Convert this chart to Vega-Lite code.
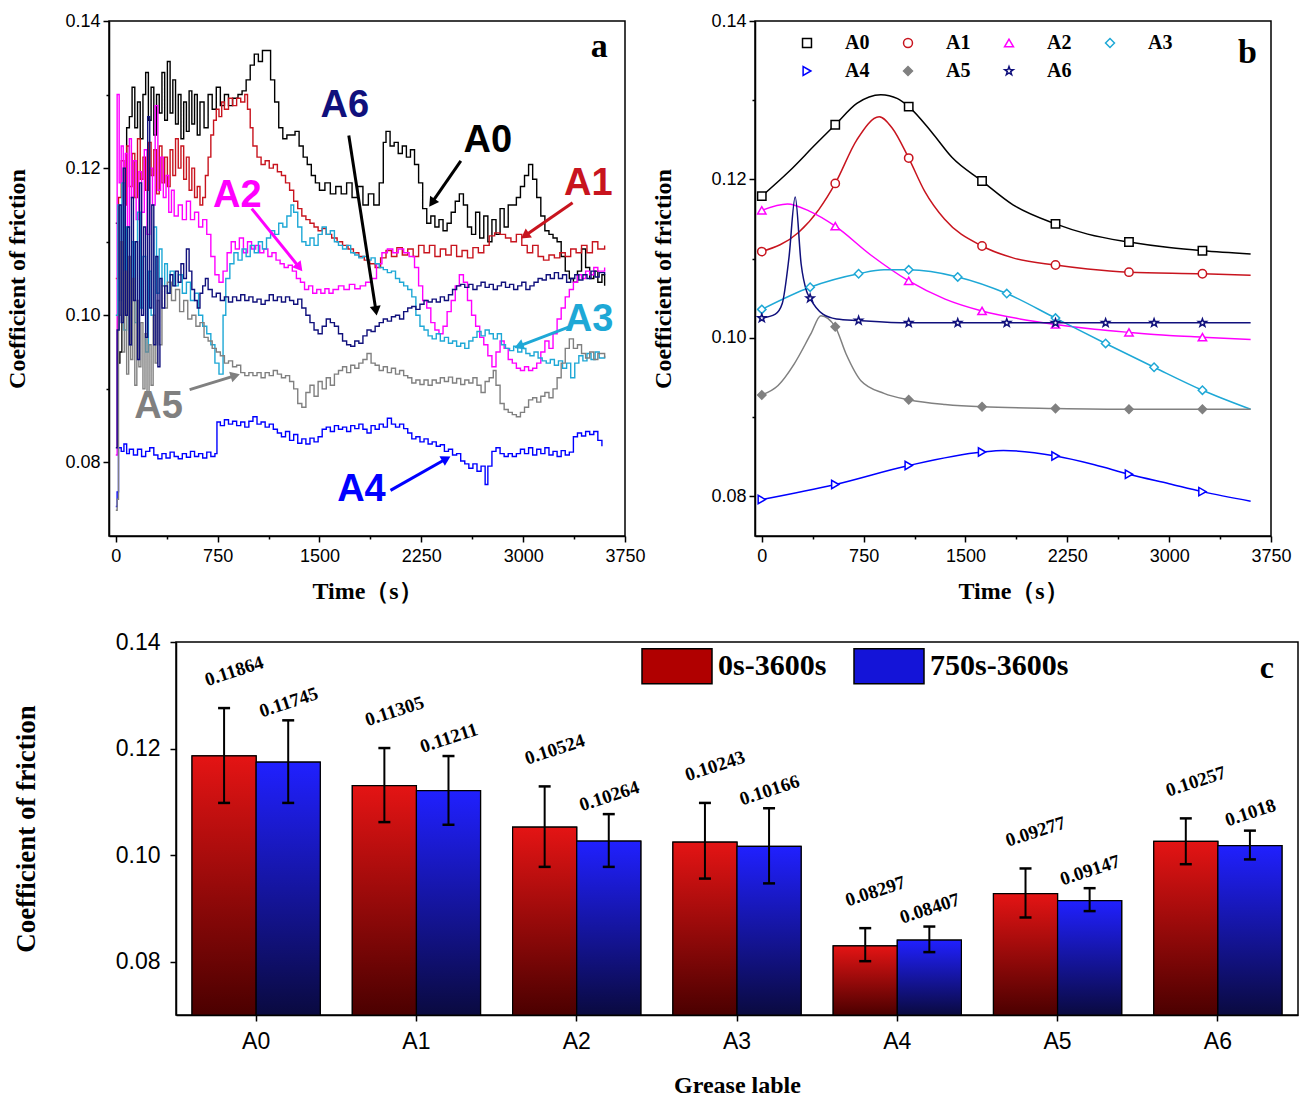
{
"$schema": "https://vega.github.io/schema/vega-lite/v6.json",
"background": "white",
"padding": {"left": 5, "top": 11, "right": 0, "bottom": 0},
"config": {
  "view": {"stroke": "#000", "strokeWidth": 1.5},
  "axis": {"domainColor": "#000", "tickColor": "#000", "labelColor": "#000", "titleColor": "#000", "grid": false, "domainWidth": 1.5, "tickWidth": 1.5, "labelFlush": false, "labelOverlap": false, "labelFont": "Liberation Sans", "titleFont": "Liberation Serif", "titleFontWeight": "bold"}
},
"datasets": {
"fric": [
{"s":"A0","t":0,"v":0.1125},{"s":"A0","t":15,"v":0.0935},{"s":"A0","t":30,"v":0.095},{"s":"A0","t":45,"v":0.1},{"s":"A0","t":60,"v":0.118},{"s":"A0","t":80,"v":0.1255},{"s":"A0","t":100,"v":0.127},{"s":"A0","t":120,"v":0.131},{"s":"A0","t":140,"v":0.1255},{"s":"A0","t":160,"v":0.129},{"s":"A0","t":180,"v":0.124},{"s":"A0","t":200,"v":0.13},{"s":"A0","t":220,"v":0.133},{"s":"A0","t":240,"v":0.1265},{"s":"A0","t":260,"v":0.131},{"s":"A0","t":280,"v":0.1245},{"s":"A0","t":300,"v":0.13},{"s":"A0","t":320,"v":0.1275},{"s":"A0","t":340,"v":0.133},{"s":"A0","t":360,"v":0.1265},{"s":"A0","t":380,"v":0.1345},{"s":"A0","t":400,"v":0.1275},{"s":"A0","t":420,"v":0.132},{"s":"A0","t":440,"v":0.126},{"s":"A0","t":460,"v":0.13},{"s":"A0","t":480,"v":0.124},{"s":"A0","t":500,"v":0.129},{"s":"A0","t":520,"v":0.125},{"s":"A0","t":540,"v":0.1305},{"s":"A0","t":560,"v":0.126},{"s":"A0","t":580,"v":0.13},{"s":"A0","t":600,"v":0.1245},{"s":"A0","t":620,"v":0.129},{"s":"A0","t":650,"v":0.1255},{"s":"A0","t":680,"v":0.13},{"s":"A0","t":710,"v":0.128},{"s":"A0","t":740,"v":0.131},{"s":"A0","t":770,"v":0.1285},{"s":"A0","t":800,"v":0.13},{"s":"A0","t":830,"v":0.1285},{"s":"A0","t":860,"v":0.1295},{"s":"A0","t":900,"v":0.13},{"s":"A0","t":930,"v":0.1305},{"s":"A0","t":960,"v":0.132},{"s":"A0","t":990,"v":0.134},{"s":"A0","t":1020,"v":0.1355},{"s":"A0","t":1050,"v":0.1345},{"s":"A0","t":1080,"v":0.136},{"s":"A0","t":1110,"v":0.136},{"s":"A0","t":1140,"v":0.132},{"s":"A0","t":1170,"v":0.129},{"s":"A0","t":1200,"v":0.1255},{"s":"A0","t":1230,"v":0.124},{"s":"A0","t":1260,"v":0.1245},{"s":"A0","t":1290,"v":0.1245},{"s":"A0","t":1320,"v":0.125},{"s":"A0","t":1350,"v":0.123},{"s":"A0","t":1380,"v":0.1215},{"s":"A0","t":1410,"v":0.1205},{"s":"A0","t":1440,"v":0.119},{"s":"A0","t":1470,"v":0.118},{"s":"A0","t":1500,"v":0.117},{"s":"A0","t":1540,"v":0.118},{"s":"A0","t":1580,"v":0.1165},{"s":"A0","t":1620,"v":0.1175},{"s":"A0","t":1660,"v":0.1165},{"s":"A0","t":1700,"v":0.118},{"s":"A0","t":1740,"v":0.116},{"s":"A0","t":1780,"v":0.1175},{"s":"A0","t":1820,"v":0.115},{"s":"A0","t":1860,"v":0.1165},{"s":"A0","t":1900,"v":0.115},{"s":"A0","t":1940,"v":0.118},{"s":"A0","t":1970,"v":0.1235},{"s":"A0","t":1990,"v":0.125},{"s":"A0","t":2020,"v":0.123},{"s":"A0","t":2050,"v":0.1235},{"s":"A0","t":2080,"v":0.122},{"s":"A0","t":2110,"v":0.123},{"s":"A0","t":2140,"v":0.1215},{"s":"A0","t":2170,"v":0.1225},{"s":"A0","t":2200,"v":0.1205},{"s":"A0","t":2230,"v":0.118},{"s":"A0","t":2260,"v":0.1145},{"s":"A0","t":2290,"v":0.1125},{"s":"A0","t":2320,"v":0.1135},{"s":"A0","t":2350,"v":0.112},{"s":"A0","t":2380,"v":0.113},{"s":"A0","t":2410,"v":0.1115},{"s":"A0","t":2440,"v":0.1125},{"s":"A0","t":2470,"v":0.114},{"s":"A0","t":2500,"v":0.1155},{"s":"A0","t":2530,"v":0.1165},{"s":"A0","t":2560,"v":0.115},{"s":"A0","t":2590,"v":0.112},{"s":"A0","t":2620,"v":0.111},{"s":"A0","t":2650,"v":0.114},{"s":"A0","t":2680,"v":0.1105},{"s":"A0","t":2710,"v":0.1135},{"s":"A0","t":2740,"v":0.11},{"s":"A0","t":2770,"v":0.113},{"s":"A0","t":2800,"v":0.111},{"s":"A0","t":2830,"v":0.1145},{"s":"A0","t":2860,"v":0.112},{"s":"A0","t":2890,"v":0.115},{"s":"A0","t":2920,"v":0.115},{"s":"A0","t":2950,"v":0.116},{"s":"A0","t":2980,"v":0.1175},{"s":"A0","t":3010,"v":0.119},{"s":"A0","t":3040,"v":0.1205},{"s":"A0","t":3070,"v":0.1185},{"s":"A0","t":3100,"v":0.116},{"s":"A0","t":3130,"v":0.1135},{"s":"A0","t":3160,"v":0.1115},{"s":"A0","t":3190,"v":0.111},{"s":"A0","t":3220,"v":0.1105},{"s":"A0","t":3250,"v":0.11},{"s":"A0","t":3280,"v":0.108},{"s":"A0","t":3310,"v":0.106},{"s":"A0","t":3340,"v":0.105},{"s":"A0","t":3370,"v":0.1045},{"s":"A0","t":3400,"v":0.106},{"s":"A0","t":3430,"v":0.109},{"s":"A0","t":3460,"v":0.1065},{"s":"A0","t":3490,"v":0.105},{"s":"A0","t":3520,"v":0.106},{"s":"A0","t":3550,"v":0.1045},{"s":"A0","t":3580,"v":0.1055},{"s":"A0","t":3600,"v":0.104},
{"s":"A1","t":0,"v":0.105},{"s":"A1","t":20,"v":0.116},{"s":"A1","t":40,"v":0.121},{"s":"A1","t":60,"v":0.115},{"s":"A1","t":80,"v":0.123},{"s":"A1","t":100,"v":0.1175},{"s":"A1","t":120,"v":0.122},{"s":"A1","t":140,"v":0.116},{"s":"A1","t":160,"v":0.124},{"s":"A1","t":180,"v":0.1185},{"s":"A1","t":200,"v":0.1215},{"s":"A1","t":220,"v":0.117},{"s":"A1","t":240,"v":0.1235},{"s":"A1","t":260,"v":0.119},{"s":"A1","t":280,"v":0.1225},{"s":"A1","t":300,"v":0.1165},{"s":"A1","t":320,"v":0.123},{"s":"A1","t":340,"v":0.118},{"s":"A1","t":360,"v":0.1215},{"s":"A1","t":380,"v":0.1175},{"s":"A1","t":400,"v":0.1225},{"s":"A1","t":420,"v":0.119},{"s":"A1","t":440,"v":0.124},{"s":"A1","t":460,"v":0.12},{"s":"A1","t":480,"v":0.123},{"s":"A1","t":500,"v":0.1185},{"s":"A1","t":520,"v":0.1215},{"s":"A1","t":540,"v":0.117},{"s":"A1","t":560,"v":0.12},{"s":"A1","t":580,"v":0.116},{"s":"A1","t":600,"v":0.1175},{"s":"A1","t":620,"v":0.115},{"s":"A1","t":640,"v":0.116},{"s":"A1","t":660,"v":0.119},{"s":"A1","t":680,"v":0.1215},{"s":"A1","t":700,"v":0.1245},{"s":"A1","t":720,"v":0.1265},{"s":"A1","t":740,"v":0.128},{"s":"A1","t":760,"v":0.127},{"s":"A1","t":780,"v":0.129},{"s":"A1","t":800,"v":0.128},{"s":"A1","t":830,"v":0.1295},{"s":"A1","t":860,"v":0.1285},{"s":"A1","t":890,"v":0.1295},{"s":"A1","t":920,"v":0.129},{"s":"A1","t":950,"v":0.13},{"s":"A1","t":970,"v":0.128},{"s":"A1","t":990,"v":0.1255},{"s":"A1","t":1010,"v":0.123},{"s":"A1","t":1040,"v":0.1215},{"s":"A1","t":1070,"v":0.1205},{"s":"A1","t":1100,"v":0.121},{"s":"A1","t":1130,"v":0.12},{"s":"A1","t":1160,"v":0.1205},{"s":"A1","t":1190,"v":0.1195},{"s":"A1","t":1220,"v":0.119},{"s":"A1","t":1250,"v":0.118},{"s":"A1","t":1280,"v":0.117},{"s":"A1","t":1310,"v":0.1155},{"s":"A1","t":1340,"v":0.1145},{"s":"A1","t":1370,"v":0.1135},{"s":"A1","t":1400,"v":0.113},{"s":"A1","t":1430,"v":0.1125},{"s":"A1","t":1460,"v":0.112},{"s":"A1","t":1490,"v":0.1115},{"s":"A1","t":1520,"v":0.1118},{"s":"A1","t":1550,"v":0.111},{"s":"A1","t":1590,"v":0.1105},{"s":"A1","t":1630,"v":0.11},{"s":"A1","t":1670,"v":0.1095},{"s":"A1","t":1710,"v":0.109},{"s":"A1","t":1750,"v":0.1085},{"s":"A1","t":1790,"v":0.108},{"s":"A1","t":1830,"v":0.1075},{"s":"A1","t":1870,"v":0.107},{"s":"A1","t":1910,"v":0.1065},{"s":"A1","t":1950,"v":0.1078},{"s":"A1","t":1990,"v":0.1088},{"s":"A1","t":2030,"v":0.108},{"s":"A1","t":2070,"v":0.1092},{"s":"A1","t":2110,"v":0.1082},{"s":"A1","t":2150,"v":0.109},{"s":"A1","t":2190,"v":0.108},{"s":"A1","t":2230,"v":0.1095},{"s":"A1","t":2270,"v":0.1085},{"s":"A1","t":2310,"v":0.1095},{"s":"A1","t":2350,"v":0.108},{"s":"A1","t":2390,"v":0.109},{"s":"A1","t":2430,"v":0.1082},{"s":"A1","t":2470,"v":0.1095},{"s":"A1","t":2510,"v":0.108},{"s":"A1","t":2550,"v":0.1088},{"s":"A1","t":2590,"v":0.1078},{"s":"A1","t":2630,"v":0.1092},{"s":"A1","t":2670,"v":0.1085},{"s":"A1","t":2710,"v":0.1095},{"s":"A1","t":2750,"v":0.1108},{"s":"A1","t":2790,"v":0.1112},{"s":"A1","t":2830,"v":0.111},{"s":"A1","t":2870,"v":0.1105},{"s":"A1","t":2910,"v":0.11},{"s":"A1","t":2950,"v":0.111},{"s":"A1","t":2990,"v":0.1095},{"s":"A1","t":3030,"v":0.1085},{"s":"A1","t":3070,"v":0.1095},{"s":"A1","t":3110,"v":0.108},{"s":"A1","t":3150,"v":0.1075},{"s":"A1","t":3190,"v":0.1082},{"s":"A1","t":3230,"v":0.1078},{"s":"A1","t":3270,"v":0.1085},{"s":"A1","t":3310,"v":0.108},{"s":"A1","t":3350,"v":0.109},{"s":"A1","t":3390,"v":0.1085},{"s":"A1","t":3430,"v":0.1095},{"s":"A1","t":3470,"v":0.1085},{"s":"A1","t":3510,"v":0.11},{"s":"A1","t":3550,"v":0.109},{"s":"A1","t":3600,"v":0.1095},
{"s":"A2","t":0,"v":0.081},{"s":"A2","t":10,"v":0.13},{"s":"A2","t":25,"v":0.118},{"s":"A2","t":40,"v":0.123},{"s":"A2","t":55,"v":0.115},{"s":"A2","t":70,"v":0.122},{"s":"A2","t":85,"v":0.112},{"s":"A2","t":100,"v":0.124},{"s":"A2","t":115,"v":0.116},{"s":"A2","t":130,"v":0.121},{"s":"A2","t":150,"v":0.113},{"s":"A2","t":170,"v":0.1195},{"s":"A2","t":190,"v":0.114},{"s":"A2","t":210,"v":0.1225},{"s":"A2","t":230,"v":0.111},{"s":"A2","t":250,"v":0.12},{"s":"A2","t":270,"v":0.115},{"s":"A2","t":290,"v":0.1285},{"s":"A2","t":310,"v":0.117},{"s":"A2","t":330,"v":0.1215},{"s":"A2","t":350,"v":0.116},{"s":"A2","t":370,"v":0.119},{"s":"A2","t":390,"v":0.114},{"s":"A2","t":410,"v":0.117},{"s":"A2","t":430,"v":0.1135},{"s":"A2","t":460,"v":0.115},{"s":"A2","t":490,"v":0.113},{"s":"A2","t":520,"v":0.1155},{"s":"A2","t":550,"v":0.113},{"s":"A2","t":580,"v":0.114},{"s":"A2","t":610,"v":0.112},{"s":"A2","t":640,"v":0.113},{"s":"A2","t":670,"v":0.111},{"s":"A2","t":700,"v":0.108},{"s":"A2","t":730,"v":0.1055},{"s":"A2","t":760,"v":0.1045},{"s":"A2","t":790,"v":0.106},{"s":"A2","t":820,"v":0.1085},{"s":"A2","t":850,"v":0.11},{"s":"A2","t":880,"v":0.109},{"s":"A2","t":910,"v":0.1105},{"s":"A2","t":940,"v":0.1085},{"s":"A2","t":970,"v":0.11},{"s":"A2","t":1000,"v":0.109},{"s":"A2","t":1030,"v":0.1095},{"s":"A2","t":1060,"v":0.1085},{"s":"A2","t":1090,"v":0.109},{"s":"A2","t":1120,"v":0.108},{"s":"A2","t":1150,"v":0.1085},{"s":"A2","t":1180,"v":0.1075},{"s":"A2","t":1210,"v":0.107},{"s":"A2","t":1240,"v":0.1065},{"s":"A2","t":1270,"v":0.1068},{"s":"A2","t":1300,"v":0.106},{"s":"A2","t":1330,"v":0.105},{"s":"A2","t":1360,"v":0.1045},{"s":"A2","t":1390,"v":0.1035},{"s":"A2","t":1420,"v":0.104},{"s":"A2","t":1450,"v":0.103},{"s":"A2","t":1480,"v":0.1035},{"s":"A2","t":1510,"v":0.103},{"s":"A2","t":1540,"v":0.1036},{"s":"A2","t":1570,"v":0.103},{"s":"A2","t":1600,"v":0.1035},{"s":"A2","t":1640,"v":0.104},{"s":"A2","t":1680,"v":0.1035},{"s":"A2","t":1720,"v":0.1042},{"s":"A2","t":1760,"v":0.1036},{"s":"A2","t":1800,"v":0.104},{"s":"A2","t":1840,"v":0.1045},{"s":"A2","t":1880,"v":0.105},{"s":"A2","t":1920,"v":0.107},{"s":"A2","t":1960,"v":0.1085},{"s":"A2","t":2000,"v":0.109},{"s":"A2","t":2040,"v":0.1085},{"s":"A2","t":2080,"v":0.109},{"s":"A2","t":2120,"v":0.1085},{"s":"A2","t":2160,"v":0.108},{"s":"A2","t":2200,"v":0.1065},{"s":"A2","t":2230,"v":0.104},{"s":"A2","t":2260,"v":0.102},{"s":"A2","t":2290,"v":0.101},{"s":"A2","t":2320,"v":0.099},{"s":"A2","t":2350,"v":0.098},{"s":"A2","t":2380,"v":0.0975},{"s":"A2","t":2410,"v":0.0985},{"s":"A2","t":2440,"v":0.1005},{"s":"A2","t":2470,"v":0.102},{"s":"A2","t":2500,"v":0.104},{"s":"A2","t":2530,"v":0.1055},{"s":"A2","t":2560,"v":0.1045},{"s":"A2","t":2590,"v":0.102},{"s":"A2","t":2620,"v":0.1},{"s":"A2","t":2650,"v":0.0985},{"s":"A2","t":2680,"v":0.097},{"s":"A2","t":2710,"v":0.096},{"s":"A2","t":2740,"v":0.0945},{"s":"A2","t":2770,"v":0.093},{"s":"A2","t":2800,"v":0.095},{"s":"A2","t":2830,"v":0.0965},{"s":"A2","t":2860,"v":0.0955},{"s":"A2","t":2890,"v":0.094},{"s":"A2","t":2920,"v":0.0935},{"s":"A2","t":2950,"v":0.0928},{"s":"A2","t":2980,"v":0.0925},{"s":"A2","t":3010,"v":0.093},{"s":"A2","t":3040,"v":0.0925},{"s":"A2","t":3070,"v":0.0928},{"s":"A2","t":3100,"v":0.0935},{"s":"A2","t":3130,"v":0.095},{"s":"A2","t":3160,"v":0.0965},{"s":"A2","t":3190,"v":0.0955},{"s":"A2","t":3220,"v":0.0975},{"s":"A2","t":3250,"v":0.0995},{"s":"A2","t":3280,"v":0.101},{"s":"A2","t":3310,"v":0.1025},{"s":"A2","t":3340,"v":0.1035},{"s":"A2","t":3370,"v":0.1045},{"s":"A2","t":3400,"v":0.1055},{"s":"A2","t":3430,"v":0.105},{"s":"A2","t":3460,"v":0.106},{"s":"A2","t":3490,"v":0.1055},{"s":"A2","t":3520,"v":0.1065},{"s":"A2","t":3550,"v":0.106},{"s":"A2","t":3600,"v":0.1065},
{"s":"A3","t":0,"v":0.1},{"s":"A3","t":15,"v":0.115},{"s":"A3","t":30,"v":0.102},{"s":"A3","t":45,"v":0.118},{"s":"A3","t":60,"v":0.098},{"s":"A3","t":80,"v":0.112},{"s":"A3","t":100,"v":0.096},{"s":"A3","t":120,"v":0.11},{"s":"A3","t":140,"v":0.099},{"s":"A3","t":160,"v":0.114},{"s":"A3","t":180,"v":0.101},{"s":"A3","t":200,"v":0.108},{"s":"A3","t":220,"v":0.095},{"s":"A3","t":240,"v":0.106},{"s":"A3","t":260,"v":0.1},{"s":"A3","t":280,"v":0.112},{"s":"A3","t":300,"v":0.103},{"s":"A3","t":320,"v":0.109},{"s":"A3","t":340,"v":0.104},{"s":"A3","t":360,"v":0.107},{"s":"A3","t":380,"v":0.103},{"s":"A3","t":400,"v":0.106},{"s":"A3","t":430,"v":0.104},{"s":"A3","t":460,"v":0.1055},{"s":"A3","t":490,"v":0.103},{"s":"A3","t":520,"v":0.1045},{"s":"A3","t":550,"v":0.102},{"s":"A3","t":580,"v":0.103},{"s":"A3","t":610,"v":0.1},{"s":"A3","t":640,"v":0.0985},{"s":"A3","t":670,"v":0.0975},{"s":"A3","t":700,"v":0.096},{"s":"A3","t":730,"v":0.0935},{"s":"A3","t":760,"v":0.092},{"s":"A3","t":790,"v":0.1},{"s":"A3","t":810,"v":0.105},{"s":"A3","t":840,"v":0.107},{"s":"A3","t":870,"v":0.1085},{"s":"A3","t":900,"v":0.1075},{"s":"A3","t":930,"v":0.109},{"s":"A3","t":960,"v":0.108},{"s":"A3","t":990,"v":0.1095},{"s":"A3","t":1020,"v":0.1085},{"s":"A3","t":1050,"v":0.11},{"s":"A3","t":1080,"v":0.109},{"s":"A3","t":1110,"v":0.1105},{"s":"A3","t":1140,"v":0.1115},{"s":"A3","t":1170,"v":0.111},{"s":"A3","t":1200,"v":0.1125},{"s":"A3","t":1230,"v":0.112},{"s":"A3","t":1260,"v":0.1135},{"s":"A3","t":1290,"v":0.115},{"s":"A3","t":1310,"v":0.114},{"s":"A3","t":1340,"v":0.112},{"s":"A3","t":1370,"v":0.11},{"s":"A3","t":1400,"v":0.1095},{"s":"A3","t":1430,"v":0.1105},{"s":"A3","t":1460,"v":0.1095},{"s":"A3","t":1490,"v":0.111},{"s":"A3","t":1520,"v":0.112},{"s":"A3","t":1550,"v":0.111},{"s":"A3","t":1580,"v":0.1115},{"s":"A3","t":1610,"v":0.11},{"s":"A3","t":1640,"v":0.1095},{"s":"A3","t":1670,"v":0.109},{"s":"A3","t":1700,"v":0.1095},{"s":"A3","t":1730,"v":0.1085},{"s":"A3","t":1760,"v":0.1082},{"s":"A3","t":1790,"v":0.1078},{"s":"A3","t":1820,"v":0.108},{"s":"A3","t":1850,"v":0.1075},{"s":"A3","t":1880,"v":0.1078},{"s":"A3","t":1910,"v":0.107},{"s":"A3","t":1940,"v":0.1065},{"s":"A3","t":1970,"v":0.1062},{"s":"A3","t":2000,"v":0.1058},{"s":"A3","t":2030,"v":0.106},{"s":"A3","t":2060,"v":0.105},{"s":"A3","t":2090,"v":0.1045},{"s":"A3","t":2120,"v":0.104},{"s":"A3","t":2150,"v":0.1035},{"s":"A3","t":2180,"v":0.1025},{"s":"A3","t":2210,"v":0.1},{"s":"A3","t":2240,"v":0.0985},{"s":"A3","t":2270,"v":0.098},{"s":"A3","t":2300,"v":0.0972},{"s":"A3","t":2330,"v":0.0968},{"s":"A3","t":2360,"v":0.0975},{"s":"A3","t":2390,"v":0.0965},{"s":"A3","t":2420,"v":0.097},{"s":"A3","t":2450,"v":0.0962},{"s":"A3","t":2480,"v":0.0965},{"s":"A3","t":2510,"v":0.0958},{"s":"A3","t":2540,"v":0.0962},{"s":"A3","t":2570,"v":0.0955},{"s":"A3","t":2600,"v":0.0965},{"s":"A3","t":2630,"v":0.097},{"s":"A3","t":2660,"v":0.0978},{"s":"A3","t":2690,"v":0.0972},{"s":"A3","t":2720,"v":0.098},{"s":"A3","t":2750,"v":0.0975},{"s":"A3","t":2780,"v":0.0968},{"s":"A3","t":2810,"v":0.0975},{"s":"A3","t":2840,"v":0.096},{"s":"A3","t":2870,"v":0.0955},{"s":"A3","t":2900,"v":0.0952},{"s":"A3","t":2930,"v":0.0958},{"s":"A3","t":2960,"v":0.095},{"s":"A3","t":2990,"v":0.0955},{"s":"A3","t":3020,"v":0.0948},{"s":"A3","t":3050,"v":0.0945},{"s":"A3","t":3080,"v":0.095},{"s":"A3","t":3110,"v":0.0942},{"s":"A3","t":3140,"v":0.0938},{"s":"A3","t":3170,"v":0.0935},{"s":"A3","t":3200,"v":0.094},{"s":"A3","t":3230,"v":0.0932},{"s":"A3","t":3260,"v":0.0938},{"s":"A3","t":3290,"v":0.0928},{"s":"A3","t":3320,"v":0.0935},{"s":"A3","t":3350,"v":0.0915},{"s":"A3","t":3380,"v":0.0935},{"s":"A3","t":3410,"v":0.0945},{"s":"A3","t":3440,"v":0.0938},{"s":"A3","t":3470,"v":0.0948},{"s":"A3","t":3500,"v":0.094},{"s":"A3","t":3530,"v":0.095},{"s":"A3","t":3560,"v":0.0942},{"s":"A3","t":3600,"v":0.0945},
{"s":"A4","t":0,"v":0.074},{"s":"A4","t":10,"v":0.076},{"s":"A4","t":20,"v":0.082},{"s":"A4","t":40,"v":0.0815},{"s":"A4","t":60,"v":0.0825},{"s":"A4","t":80,"v":0.0812},{"s":"A4","t":100,"v":0.0818},{"s":"A4","t":130,"v":0.081},{"s":"A4","t":160,"v":0.0818},{"s":"A4","t":190,"v":0.0808},{"s":"A4","t":220,"v":0.0815},{"s":"A4","t":250,"v":0.082},{"s":"A4","t":280,"v":0.081},{"s":"A4","t":310,"v":0.0805},{"s":"A4","t":340,"v":0.0812},{"s":"A4","t":370,"v":0.0806},{"s":"A4","t":400,"v":0.0814},{"s":"A4","t":430,"v":0.0808},{"s":"A4","t":460,"v":0.0805},{"s":"A4","t":490,"v":0.0812},{"s":"A4","t":520,"v":0.0807},{"s":"A4","t":550,"v":0.0815},{"s":"A4","t":580,"v":0.0808},{"s":"A4","t":610,"v":0.0812},{"s":"A4","t":640,"v":0.0806},{"s":"A4","t":670,"v":0.0814},{"s":"A4","t":700,"v":0.0808},{"s":"A4","t":730,"v":0.0812},{"s":"A4","t":745,"v":0.0855},{"s":"A4","t":770,"v":0.085},{"s":"A4","t":800,"v":0.0858},{"s":"A4","t":830,"v":0.0852},{"s":"A4","t":860,"v":0.0856},{"s":"A4","t":890,"v":0.085},{"s":"A4","t":920,"v":0.0855},{"s":"A4","t":950,"v":0.0848},{"s":"A4","t":980,"v":0.0856},{"s":"A4","t":1010,"v":0.0862},{"s":"A4","t":1040,"v":0.0852},{"s":"A4","t":1070,"v":0.0855},{"s":"A4","t":1100,"v":0.0848},{"s":"A4","t":1130,"v":0.0852},{"s":"A4","t":1160,"v":0.0845},{"s":"A4","t":1190,"v":0.084},{"s":"A4","t":1220,"v":0.0835},{"s":"A4","t":1250,"v":0.0842},{"s":"A4","t":1280,"v":0.083},{"s":"A4","t":1310,"v":0.0838},{"s":"A4","t":1340,"v":0.0826},{"s":"A4","t":1370,"v":0.0832},{"s":"A4","t":1400,"v":0.0825},{"s":"A4","t":1430,"v":0.0833},{"s":"A4","t":1460,"v":0.0828},{"s":"A4","t":1490,"v":0.0835},{"s":"A4","t":1520,"v":0.0845},{"s":"A4","t":1550,"v":0.0848},{"s":"A4","t":1580,"v":0.0842},{"s":"A4","t":1610,"v":0.085},{"s":"A4","t":1640,"v":0.0845},{"s":"A4","t":1670,"v":0.0848},{"s":"A4","t":1700,"v":0.0842},{"s":"A4","t":1730,"v":0.085},{"s":"A4","t":1760,"v":0.0846},{"s":"A4","t":1790,"v":0.0852},{"s":"A4","t":1820,"v":0.0845},{"s":"A4","t":1850,"v":0.084},{"s":"A4","t":1880,"v":0.085},{"s":"A4","t":1910,"v":0.0845},{"s":"A4","t":1940,"v":0.0852},{"s":"A4","t":1970,"v":0.0848},{"s":"A4","t":2000,"v":0.086},{"s":"A4","t":2030,"v":0.0852},{"s":"A4","t":2060,"v":0.0848},{"s":"A4","t":2090,"v":0.0852},{"s":"A4","t":2120,"v":0.0846},{"s":"A4","t":2150,"v":0.084},{"s":"A4","t":2180,"v":0.0832},{"s":"A4","t":2210,"v":0.0835},{"s":"A4","t":2240,"v":0.0828},{"s":"A4","t":2270,"v":0.0832},{"s":"A4","t":2300,"v":0.0825},{"s":"A4","t":2330,"v":0.0828},{"s":"A4","t":2360,"v":0.0822},{"s":"A4","t":2390,"v":0.0824},{"s":"A4","t":2420,"v":0.0815},{"s":"A4","t":2450,"v":0.0818},{"s":"A4","t":2480,"v":0.081},{"s":"A4","t":2510,"v":0.0812},{"s":"A4","t":2540,"v":0.0802},{"s":"A4","t":2570,"v":0.0798},{"s":"A4","t":2600,"v":0.0792},{"s":"A4","t":2630,"v":0.0798},{"s":"A4","t":2660,"v":0.0788},{"s":"A4","t":2690,"v":0.0795},{"s":"A4","t":2720,"v":0.077},{"s":"A4","t":2740,"v":0.0795},{"s":"A4","t":2770,"v":0.0815},{"s":"A4","t":2800,"v":0.082},{"s":"A4","t":2830,"v":0.0812},{"s":"A4","t":2860,"v":0.0808},{"s":"A4","t":2890,"v":0.0812},{"s":"A4","t":2920,"v":0.0808},{"s":"A4","t":2950,"v":0.0812},{"s":"A4","t":2980,"v":0.0818},{"s":"A4","t":3010,"v":0.0812},{"s":"A4","t":3040,"v":0.082},{"s":"A4","t":3070,"v":0.081},{"s":"A4","t":3100,"v":0.0818},{"s":"A4","t":3130,"v":0.0812},{"s":"A4","t":3160,"v":0.082},{"s":"A4","t":3190,"v":0.081},{"s":"A4","t":3220,"v":0.0815},{"s":"A4","t":3250,"v":0.0808},{"s":"A4","t":3280,"v":0.0816},{"s":"A4","t":3310,"v":0.081},{"s":"A4","t":3340,"v":0.0814},{"s":"A4","t":3370,"v":0.0835},{"s":"A4","t":3400,"v":0.084},{"s":"A4","t":3430,"v":0.0836},{"s":"A4","t":3460,"v":0.0842},{"s":"A4","t":3490,"v":0.0838},{"s":"A4","t":3520,"v":0.0842},{"s":"A4","t":3550,"v":0.083},{"s":"A4","t":3580,"v":0.0822},
{"s":"A5","t":0,"v":0.0735},{"s":"A5","t":10,"v":0.075},{"s":"A5","t":20,"v":0.1},{"s":"A5","t":35,"v":0.11},{"s":"A5","t":50,"v":0.095},{"s":"A5","t":65,"v":0.106},{"s":"A5","t":80,"v":0.092},{"s":"A5","t":95,"v":0.108},{"s":"A5","t":110,"v":0.094},{"s":"A5","t":125,"v":0.105},{"s":"A5","t":140,"v":0.0905},{"s":"A5","t":155,"v":0.102},{"s":"A5","t":170,"v":0.093},{"s":"A5","t":185,"v":0.099},{"s":"A5","t":200,"v":0.09},{"s":"A5","t":215,"v":0.0975},{"s":"A5","t":230,"v":0.089},{"s":"A5","t":245,"v":0.096},{"s":"A5","t":260,"v":0.0905},{"s":"A5","t":275,"v":0.1},{"s":"A5","t":290,"v":0.0935},{"s":"A5","t":305,"v":0.102},{"s":"A5","t":320,"v":0.096},{"s":"A5","t":340,"v":0.104},{"s":"A5","t":360,"v":0.101},{"s":"A5","t":380,"v":0.1045},{"s":"A5","t":410,"v":0.102},{"s":"A5","t":440,"v":0.1035},{"s":"A5","t":470,"v":0.1005},{"s":"A5","t":500,"v":0.102},{"s":"A5","t":530,"v":0.0995},{"s":"A5","t":560,"v":0.1},{"s":"A5","t":590,"v":0.0985},{"s":"A5","t":620,"v":0.099},{"s":"A5","t":650,"v":0.097},{"s":"A5","t":680,"v":0.0965},{"s":"A5","t":710,"v":0.0955},{"s":"A5","t":740,"v":0.095},{"s":"A5","t":770,"v":0.0945},{"s":"A5","t":800,"v":0.0935},{"s":"A5","t":830,"v":0.0938},{"s":"A5","t":860,"v":0.093},{"s":"A5","t":890,"v":0.0932},{"s":"A5","t":920,"v":0.0922},{"s":"A5","t":950,"v":0.0918},{"s":"A5","t":980,"v":0.0922},{"s":"A5","t":1010,"v":0.0918},{"s":"A5","t":1040,"v":0.0922},{"s":"A5","t":1070,"v":0.0915},{"s":"A5","t":1100,"v":0.0922},{"s":"A5","t":1130,"v":0.0918},{"s":"A5","t":1160,"v":0.0925},{"s":"A5","t":1190,"v":0.092},{"s":"A5","t":1220,"v":0.0915},{"s":"A5","t":1250,"v":0.0918},{"s":"A5","t":1280,"v":0.091},{"s":"A5","t":1310,"v":0.09},{"s":"A5","t":1340,"v":0.088},{"s":"A5","t":1370,"v":0.0875},{"s":"A5","t":1400,"v":0.0895},{"s":"A5","t":1430,"v":0.0905},{"s":"A5","t":1460,"v":0.089},{"s":"A5","t":1490,"v":0.091},{"s":"A5","t":1520,"v":0.09},{"s":"A5","t":1550,"v":0.0915},{"s":"A5","t":1580,"v":0.0905},{"s":"A5","t":1610,"v":0.092},{"s":"A5","t":1640,"v":0.0925},{"s":"A5","t":1670,"v":0.093},{"s":"A5","t":1700,"v":0.0922},{"s":"A5","t":1730,"v":0.0932},{"s":"A5","t":1760,"v":0.0928},{"s":"A5","t":1790,"v":0.0935},{"s":"A5","t":1820,"v":0.094},{"s":"A5","t":1850,"v":0.0948},{"s":"A5","t":1880,"v":0.0935},{"s":"A5","t":1910,"v":0.0932},{"s":"A5","t":1940,"v":0.0925},{"s":"A5","t":1970,"v":0.093},{"s":"A5","t":2000,"v":0.0922},{"s":"A5","t":2030,"v":0.0928},{"s":"A5","t":2060,"v":0.092},{"s":"A5","t":2090,"v":0.0925},{"s":"A5","t":2120,"v":0.0918},{"s":"A5","t":2150,"v":0.0915},{"s":"A5","t":2180,"v":0.0908},{"s":"A5","t":2210,"v":0.0912},{"s":"A5","t":2240,"v":0.0906},{"s":"A5","t":2270,"v":0.0912},{"s":"A5","t":2300,"v":0.0905},{"s":"A5","t":2330,"v":0.0912},{"s":"A5","t":2360,"v":0.0908},{"s":"A5","t":2390,"v":0.0915},{"s":"A5","t":2420,"v":0.091},{"s":"A5","t":2450,"v":0.0916},{"s":"A5","t":2480,"v":0.0908},{"s":"A5","t":2510,"v":0.0914},{"s":"A5","t":2540,"v":0.0906},{"s":"A5","t":2570,"v":0.0912},{"s":"A5","t":2600,"v":0.0908},{"s":"A5","t":2630,"v":0.0915},{"s":"A5","t":2660,"v":0.0905},{"s":"A5","t":2690,"v":0.0895},{"s":"A5","t":2720,"v":0.091},{"s":"A5","t":2750,"v":0.0915},{"s":"A5","t":2780,"v":0.0925},{"s":"A5","t":2800,"v":0.0905},{"s":"A5","t":2830,"v":0.088},{"s":"A5","t":2860,"v":0.0872},{"s":"A5","t":2890,"v":0.0868},{"s":"A5","t":2920,"v":0.0865},{"s":"A5","t":2950,"v":0.0862},{"s":"A5","t":2980,"v":0.0868},{"s":"A5","t":3010,"v":0.0875},{"s":"A5","t":3040,"v":0.0885},{"s":"A5","t":3070,"v":0.0888},{"s":"A5","t":3100,"v":0.0882},{"s":"A5","t":3130,"v":0.089},{"s":"A5","t":3160,"v":0.0895},{"s":"A5","t":3190,"v":0.0888},{"s":"A5","t":3220,"v":0.09},{"s":"A5","t":3250,"v":0.0915},{"s":"A5","t":3280,"v":0.0935},{"s":"A5","t":3310,"v":0.0955},{"s":"A5","t":3340,"v":0.0968},{"s":"A5","t":3370,"v":0.0955},{"s":"A5","t":3400,"v":0.096},{"s":"A5","t":3430,"v":0.0948},{"s":"A5","t":3460,"v":0.0942},{"s":"A5","t":3490,"v":0.095},{"s":"A5","t":3520,"v":0.094},{"s":"A5","t":3550,"v":0.0948},{"s":"A5","t":3600,"v":0.0942},
{"s":"A6","t":0,"v":0.082},{"s":"A6","t":10,"v":0.098},{"s":"A6","t":25,"v":0.115},{"s":"A6","t":40,"v":0.099},{"s":"A6","t":55,"v":0.12},{"s":"A6","t":70,"v":0.1},{"s":"A6","t":85,"v":0.112},{"s":"A6","t":100,"v":0.096},{"s":"A6","t":115,"v":0.116},{"s":"A6","t":130,"v":0.102},{"s":"A6","t":145,"v":0.11},{"s":"A6","t":160,"v":0.094},{"s":"A6","t":175,"v":0.118},{"s":"A6","t":190,"v":0.1},{"s":"A6","t":205,"v":0.112},{"s":"A6","t":220,"v":0.097},{"s":"A6","t":235,"v":0.127},{"s":"A6","t":250,"v":0.101},{"s":"A6","t":265,"v":0.115},{"s":"A6","t":280,"v":0.096},{"s":"A6","t":295,"v":0.108},{"s":"A6","t":310,"v":0.093},{"s":"A6","t":325,"v":0.105},{"s":"A6","t":340,"v":0.101},{"s":"A6","t":360,"v":0.104},{"s":"A6","t":380,"v":0.103},{"s":"A6","t":400,"v":0.1055},{"s":"A6","t":420,"v":0.104},{"s":"A6","t":440,"v":0.106},{"s":"A6","t":460,"v":0.1045},{"s":"A6","t":480,"v":0.107},{"s":"A6","t":500,"v":0.105},{"s":"A6","t":520,"v":0.109},{"s":"A6","t":540,"v":0.106},{"s":"A6","t":560,"v":0.1035},{"s":"A6","t":580,"v":0.102},{"s":"A6","t":600,"v":0.101},{"s":"A6","t":620,"v":0.103},{"s":"A6","t":640,"v":0.104},{"s":"A6","t":660,"v":0.105},{"s":"A6","t":680,"v":0.1035},{"s":"A6","t":710,"v":0.1025},{"s":"A6","t":740,"v":0.103},{"s":"A6","t":770,"v":0.102},{"s":"A6","t":800,"v":0.1025},{"s":"A6","t":830,"v":0.1018},{"s":"A6","t":860,"v":0.1025},{"s":"A6","t":890,"v":0.102},{"s":"A6","t":920,"v":0.1028},{"s":"A6","t":950,"v":0.102},{"s":"A6","t":980,"v":0.1025},{"s":"A6","t":1010,"v":0.1018},{"s":"A6","t":1040,"v":0.1022},{"s":"A6","t":1070,"v":0.1015},{"s":"A6","t":1100,"v":0.102},{"s":"A6","t":1130,"v":0.1028},{"s":"A6","t":1160,"v":0.102},{"s":"A6","t":1190,"v":0.1025},{"s":"A6","t":1220,"v":0.1018},{"s":"A6","t":1250,"v":0.1025},{"s":"A6","t":1280,"v":0.102},{"s":"A6","t":1310,"v":0.1015},{"s":"A6","t":1340,"v":0.1022},{"s":"A6","t":1370,"v":0.101},{"s":"A6","t":1400,"v":0.1},{"s":"A6","t":1430,"v":0.099},{"s":"A6","t":1460,"v":0.098},{"s":"A6","t":1490,"v":0.0975},{"s":"A6","t":1520,"v":0.0985},{"s":"A6","t":1550,"v":0.0995},{"s":"A6","t":1580,"v":0.099},{"s":"A6","t":1610,"v":0.0985},{"s":"A6","t":1640,"v":0.0975},{"s":"A6","t":1670,"v":0.0965},{"s":"A6","t":1700,"v":0.096},{"s":"A6","t":1730,"v":0.0958},{"s":"A6","t":1760,"v":0.0965},{"s":"A6","t":1790,"v":0.0962},{"s":"A6","t":1820,"v":0.0972},{"s":"A6","t":1850,"v":0.098},{"s":"A6","t":1880,"v":0.0978},{"s":"A6","t":1910,"v":0.0985},{"s":"A6","t":1940,"v":0.099},{"s":"A6","t":1970,"v":0.0995},{"s":"A6","t":2000,"v":0.0992},{"s":"A6","t":2030,"v":0.0998},{"s":"A6","t":2060,"v":0.1},{"s":"A6","t":2090,"v":0.0995},{"s":"A6","t":2120,"v":0.1005},{"s":"A6","t":2150,"v":0.101},{"s":"A6","t":2180,"v":0.1012},{"s":"A6","t":2210,"v":0.1008},{"s":"A6","t":2240,"v":0.1015},{"s":"A6","t":2270,"v":0.102},{"s":"A6","t":2300,"v":0.1018},{"s":"A6","t":2330,"v":0.1022},{"s":"A6","t":2360,"v":0.1018},{"s":"A6","t":2390,"v":0.1025},{"s":"A6","t":2420,"v":0.102},{"s":"A6","t":2450,"v":0.1028},{"s":"A6","t":2480,"v":0.1035},{"s":"A6","t":2510,"v":0.104},{"s":"A6","t":2540,"v":0.1042},{"s":"A6","t":2570,"v":0.1038},{"s":"A6","t":2600,"v":0.1042},{"s":"A6","t":2630,"v":0.1035},{"s":"A6","t":2660,"v":0.104},{"s":"A6","t":2690,"v":0.1045},{"s":"A6","t":2720,"v":0.1038},{"s":"A6","t":2750,"v":0.1042},{"s":"A6","t":2780,"v":0.1035},{"s":"A6","t":2810,"v":0.104},{"s":"A6","t":2840,"v":0.1045},{"s":"A6","t":2870,"v":0.1038},{"s":"A6","t":2900,"v":0.1042},{"s":"A6","t":2930,"v":0.1035},{"s":"A6","t":2960,"v":0.104},{"s":"A6","t":2990,"v":0.1045},{"s":"A6","t":3020,"v":0.1035},{"s":"A6","t":3050,"v":0.104},{"s":"A6","t":3080,"v":0.1045},{"s":"A6","t":3110,"v":0.105},{"s":"A6","t":3140,"v":0.1048},{"s":"A6","t":3170,"v":0.1055},{"s":"A6","t":3200,"v":0.105},{"s":"A6","t":3230,"v":0.1058},{"s":"A6","t":3260,"v":0.105},{"s":"A6","t":3290,"v":0.1055},{"s":"A6","t":3320,"v":0.1045},{"s":"A6","t":3350,"v":0.105},{"s":"A6","t":3380,"v":0.1055},{"s":"A6","t":3410,"v":0.1048},{"s":"A6","t":3440,"v":0.1055},{"s":"A6","t":3470,"v":0.105},{"s":"A6","t":3500,"v":0.106},{"s":"A6","t":3530,"v":0.1052},{"s":"A6","t":3560,"v":0.1058},{"s":"A6","t":3600,"v":0.1055}
],
"alabels": [
{"s":"A6","t":1687,"v":0.1285},{"s":"A0","t":2739,"v":0.1237},{"s":"A1","t":3480,"v":0.1178},{"s":"A2","t":895,"v":0.1162},{"s":"A3","t":3486,"v":0.0993},{"s":"A5","t":315,"v":0.0875},{"s":"A4","t":1809,"v":0.0762}
],
"arrows": [
{"s":"A6","t":1716,"v":0.12445,"t2":1916,"v2":0.1006},{"s":"A0","t":2541,"v":0.121,"t2":2328,"v2":0.1153},{"s":"A1","t":3364,"v":0.1153,"t2":3013,"v2":0.1108},{"s":"A2","t":1001,"v":0.1145,"t2":1352,"v2":0.1065},{"s":"A3","t":3349,"v":0.0985,"t2":2968,"v2":0.0958},{"s":"A5","t":544,"v":0.0899,"t2":880,"v2":0.0918},{"s":"A4","t":2023,"v":0.0762,"t2":2434,"v2":0.0805}
],
"curves": [
{"s":"A0","t":0,"v":0.1179},{"s":"A0","t":200,"v":0.121},{"s":"A0","t":400,"v":0.1245},{"s":"A0","t":541,"v":0.1269},{"s":"A0","t":700,"v":0.1296},{"s":"A0","t":877,"v":0.1307},{"s":"A0","t":1000,"v":0.1302},{"s":"A0","t":1082,"v":0.1292},{"s":"A0","t":1250,"v":0.126},{"s":"A0","t":1400,"v":0.1228},{"s":"A0","t":1622,"v":0.1198},{"s":"A0","t":1850,"v":0.1168},{"s":"A0","t":2163,"v":0.1144},{"s":"A0","t":2400,"v":0.1131},{"s":"A0","t":2704,"v":0.1121},{"s":"A0","t":3000,"v":0.1114},{"s":"A0","t":3245,"v":0.111},{"s":"A0","t":3600,"v":0.1106},
{"s":"A1","t":0,"v":0.1109},{"s":"A1","t":270,"v":0.1133},{"s":"A1","t":420,"v":0.1162},{"s":"A1","t":541,"v":0.1195},{"s":"A1","t":700,"v":0.125},{"s":"A1","t":865,"v":0.1279},{"s":"A1","t":960,"v":0.1265},{"s":"A1","t":1082,"v":0.1227},{"s":"A1","t":1200,"v":0.1185},{"s":"A1","t":1345,"v":0.115},{"s":"A1","t":1622,"v":0.1116},{"s":"A1","t":1850,"v":0.1101},{"s":"A1","t":2163,"v":0.1092},{"s":"A1","t":2400,"v":0.1087},{"s":"A1","t":2704,"v":0.1083},{"s":"A1","t":3245,"v":0.1081},{"s":"A1","t":3600,"v":0.1079},
{"s":"A2","t":0,"v":0.1161},{"s":"A2","t":189,"v":0.1169},{"s":"A2","t":350,"v":0.116},{"s":"A2","t":541,"v":0.1141},{"s":"A2","t":800,"v":0.1105},{"s":"A2","t":1082,"v":0.1072},{"s":"A2","t":1350,"v":0.1049},{"s":"A2","t":1622,"v":0.1034},{"s":"A2","t":1900,"v":0.1024},{"s":"A2","t":2163,"v":0.1017},{"s":"A2","t":2450,"v":0.1011},{"s":"A2","t":2704,"v":0.1007},{"s":"A2","t":3000,"v":0.1003},{"s":"A2","t":3245,"v":0.1001},{"s":"A2","t":3600,"v":0.0998},
{"s":"A3","t":0,"v":0.1036},{"s":"A3","t":356,"v":0.1064},{"s":"A3","t":713,"v":0.1081},{"s":"A3","t":900,"v":0.1086},{"s":"A3","t":1082,"v":0.1086},{"s":"A3","t":1443,"v":0.1077},{"s":"A3","t":1804,"v":0.1056},{"s":"A3","t":2163,"v":0.1025},{"s":"A3","t":2532,"v":0.0993},{"s":"A3","t":2889,"v":0.0963},{"s":"A3","t":3245,"v":0.0934},{"s":"A3","t":3600,"v":0.091},
{"s":"A4","t":0,"v":0.0796},{"s":"A4","t":541,"v":0.0815},{"s":"A4","t":1082,"v":0.0839},{"s":"A4","t":1622,"v":0.0856},{"s":"A4","t":1780,"v":0.0858},{"s":"A4","t":2163,"v":0.0851},{"s":"A4","t":2450,"v":0.084},{"s":"A4","t":2704,"v":0.0828},{"s":"A4","t":3000,"v":0.0816},{"s":"A4","t":3245,"v":0.0806},{"s":"A4","t":3600,"v":0.0794},
{"s":"A5","t":0,"v":0.0928},{"s":"A5","t":120,"v":0.094},{"s":"A5","t":238,"v":0.0967},{"s":"A5","t":361,"v":0.1005},{"s":"A5","t":435,"v":0.1028},{"s":"A5","t":541,"v":0.1014},{"s":"A5","t":620,"v":0.098},{"s":"A5","t":730,"v":0.0946},{"s":"A5","t":900,"v":0.093},{"s":"A5","t":1082,"v":0.0922},{"s":"A5","t":1350,"v":0.0916},{"s":"A5","t":1622,"v":0.0913},{"s":"A5","t":2163,"v":0.0911},{"s":"A5","t":2704,"v":0.091},{"s":"A5","t":3245,"v":0.091},{"s":"A5","t":3600,"v":0.091},
{"s":"A6","t":0,"v":0.1025},{"s":"A6","t":100,"v":0.103},{"s":"A6","t":150,"v":0.1043},{"s":"A6","t":200,"v":0.1101},{"s":"A6","t":246,"v":0.1178},{"s":"A6","t":290,"v":0.1093},{"s":"A6","t":330,"v":0.1059},{"s":"A6","t":356,"v":0.105},{"s":"A6","t":450,"v":0.103},{"s":"A6","t":550,"v":0.1024},{"s":"A6","t":713,"v":0.1022},{"s":"A6","t":1082,"v":0.1019},{"s":"A6","t":3600,"v":0.1019}
],
"markers": [
{"s":"A0","t":0,"v":0.1179},{"s":"A0","t":541,"v":0.1269},{"s":"A0","t":1082,"v":0.1292},{"s":"A0","t":1622,"v":0.1198},{"s":"A0","t":2163,"v":0.1144},{"s":"A0","t":2704,"v":0.1121},{"s":"A0","t":3245,"v":0.111},
{"s":"A1","t":0,"v":0.1109},{"s":"A1","t":541,"v":0.1195},{"s":"A1","t":1082,"v":0.1227},{"s":"A1","t":1622,"v":0.1116},{"s":"A1","t":2163,"v":0.1092},{"s":"A1","t":2704,"v":0.1083},{"s":"A1","t":3245,"v":0.1081},
{"s":"A2","t":0,"v":0.1161},{"s":"A2","t":541,"v":0.1141},{"s":"A2","t":1082,"v":0.1072},{"s":"A2","t":1622,"v":0.1034},{"s":"A2","t":2163,"v":0.1017},{"s":"A2","t":2704,"v":0.1007},{"s":"A2","t":3245,"v":0.1001},
{"s":"A3","t":0,"v":0.1036},{"s":"A3","t":356,"v":0.1064},{"s":"A3","t":713,"v":0.1081},{"s":"A3","t":1082,"v":0.1086},{"s":"A3","t":1443,"v":0.1077},{"s":"A3","t":1804,"v":0.1056},{"s":"A3","t":2163,"v":0.1025},{"s":"A3","t":2532,"v":0.0993},{"s":"A3","t":2889,"v":0.0963},{"s":"A3","t":3245,"v":0.0934},
{"s":"A4","t":0,"v":0.0796},{"s":"A4","t":541,"v":0.0815},{"s":"A4","t":1082,"v":0.0839},{"s":"A4","t":1622,"v":0.0856},{"s":"A4","t":2163,"v":0.0851},{"s":"A4","t":2704,"v":0.0828},{"s":"A4","t":3245,"v":0.0806},
{"s":"A5","t":0,"v":0.0928},{"s":"A5","t":541,"v":0.1014},{"s":"A5","t":1082,"v":0.0922},{"s":"A5","t":1622,"v":0.0913},{"s":"A5","t":2163,"v":0.0911},{"s":"A5","t":2704,"v":0.091},{"s":"A5","t":3245,"v":0.091},
{"s":"A6","t":0,"v":0.1025},{"s":"A6","t":356,"v":0.105},{"s":"A6","t":713,"v":0.1022},{"s":"A6","t":1082,"v":0.1019},{"s":"A6","t":1443,"v":0.1019},{"s":"A6","t":1804,"v":0.1019},{"s":"A6","t":2163,"v":0.1019},{"s":"A6","t":2532,"v":0.1019},{"s":"A6","t":2889,"v":0.1019},{"s":"A6","t":3245,"v":0.1019}
],
"bars": [
{"g":"A0","p":"0s-3600s","v":0.11864,"lo":0.1098,"hi":0.1276},
{"g":"A1","p":"0s-3600s","v":0.11305,"lo":0.1062,"hi":0.1201},
{"g":"A2","p":"0s-3600s","v":0.10524,"lo":0.0978,"hi":0.1129},
{"g":"A3","p":"0s-3600s","v":0.10243,"lo":0.0956,"hi":0.1098},
{"g":"A4","p":"0s-3600s","v":0.08297,"lo":0.0801,"hi":0.0863},
{"g":"A5","p":"0s-3600s","v":0.09277,"lo":0.0883,"hi":0.0975},
{"g":"A6","p":"0s-3600s","v":0.10257,"lo":0.0983,"hi":0.1069},
{"g":"A0","p":"750s-3600s","v":0.11745,"lo":0.1098,"hi":0.1253},
{"g":"A1","p":"750s-3600s","v":0.11211,"lo":0.1057,"hi":0.1186},
{"g":"A2","p":"750s-3600s","v":0.10264,"lo":0.0978,"hi":0.1077},
{"g":"A3","p":"750s-3600s","v":0.10166,"lo":0.0947,"hi":0.1088},
{"g":"A4","p":"750s-3600s","v":0.08407,"lo":0.0818,"hi":0.0866},
{"g":"A5","p":"750s-3600s","v":0.09147,"lo":0.0895,"hi":0.0938},
{"g":"A6","p":"750s-3600s","v":0.1018,"lo":0.0992,"hi":0.1046}
]
},
"resolve": {"scale": {"color": "independent"}, "legend": {"color": "independent"}},
"vconcat": [
{
"hconcat": [
{
"width": 516, "height": 515,
"layer": [
{
"data": {"name": "fric"},
"mark": {"type": "line", "strokeWidth": 1.4, "interpolate": "step-after"},
"encoding": {
"x": {"field": "t", "type": "quantitative", "title": "Time（s）", "scale": {"domain": [-50, 3750], "nice": false, "zero": false},
"axis": {"values": [0,375,750,1125,1500,1875,2250,2625,3000,3375,3750], "labelExpr": "datum.value % 750 == 0 ? format(datum.value,'d') : ''", "tickSize": {"condition": {"test": "datum.value % 750 == 0", "value": 6}, "value": 3}, "labelFontSize": 18, "labelPadding": 5, "titleFontSize": 24, "titlePadding": 14}},
"y": {"field": "v", "type": "quantitative", "title": "Coefficient of friction", "scale": {"domain": [0.07, 0.14], "nice": false, "zero": false},
"axis": {"values": [0.08,0.09,0.1,0.11,0.12,0.13,0.14], "labelExpr": "round(datum.value*100) % 2 == 0 ? format(datum.value,'.2f') : ''", "tickSize": {"condition": {"test": "round(datum.value*100) % 2 == 0", "value": 6}, "value": 3}, "labelFontSize": 18, "labelPadding": 3, "titleFontSize": 24, "titlePadding": 35}},
"color": {"field": "s", "type": "nominal", "legend": null, "scale": {"domain": ["A0","A1","A2","A3","A4","A5","A6"], "range": ["#000000","#c8141e","#ff00ff","#1ea8d6","#0000ff","#808080","#10107c"]}}
}
},
{
"data": {"name": "arrows"},
"mark": {"type": "rule", "strokeWidth": 3},
"encoding": {
"x": {"field": "t", "type": "quantitative"}, "x2": {"field": "t2"},
"y": {"field": "v", "type": "quantitative"}, "y2": {"field": "v2"},
"color": {"condition": {"test": "datum.s == 'A6'", "value": "#000000"}, "field": "s", "type": "nominal", "legend": null}
}
},
{
"data": {"name": "arrows"},
"transform": [{"calculate": "atan2((datum.t2 - datum.t) * 0.1358, (datum.v2 - datum.v) * 7357) * 180 / PI", "as": "ang"}],
"mark": {"type": "point", "shape": "triangle-up", "filled": true, "size": 120, "opacity": 1},
"encoding": {
"x": {"field": "t2", "type": "quantitative"},
"y": {"field": "v2", "type": "quantitative"},
"angle": {"field": "ang", "type": "quantitative", "scale": null},
"color": {"condition": {"test": "datum.s == 'A6'", "value": "#000000"}, "field": "s", "type": "nominal", "legend": null}
}
},
{
"data": {"name": "alabels"},
"mark": {"type": "text", "font": "Liberation Sans", "fontWeight": "bold", "fontSize": 38, "align": "center", "baseline": "middle"},
"encoding": {
"x": {"field": "t", "type": "quantitative"},
"y": {"field": "v", "type": "quantitative"},
"text": {"field": "s"},
"color": {"field": "s", "type": "nominal", "legend": null}
}
},
{
"data": {"values": [{}]},
"mark": {"type": "text", "text": "a", "font": "Liberation Serif", "fontWeight": "bold", "fontSize": 34, "align": "center", "baseline": "middle", "color": "#000"},
"encoding": {"x": {"datum": 3560}, "y": {"datum": 0.1365}}
}
]
},
{
"width": 516, "height": 515,
"layer": [
{
"data": {"name": "curves"},
"mark": {"type": "line", "strokeWidth": 1.5, "interpolate": "monotone"},
"encoding": {
"x": {"field": "t", "type": "quantitative", "title": "Time（s）", "scale": {"domain": [-50, 3750], "nice": false, "zero": false},
"axis": {"values": [0,375,750,1125,1500,1875,2250,2625,3000,3375,3750], "labelExpr": "datum.value % 750 == 0 ? format(datum.value,'d') : ''", "tickSize": {"condition": {"test": "datum.value % 750 == 0", "value": 6}, "value": 3}, "labelFontSize": 18, "labelPadding": 5, "titleFontSize": 24, "titlePadding": 14}},
"y": {"field": "v", "type": "quantitative", "title": "Coefficient of friction", "scale": {"domain": [0.075, 0.14], "nice": false, "zero": false},
"axis": {"values": [0.08,0.09,0.1,0.11,0.12,0.13,0.14], "labelExpr": "round(datum.value*100) % 2 == 0 ? format(datum.value,'.2f') : ''", "tickSize": {"condition": {"test": "round(datum.value*100) % 2 == 0", "value": 6}, "value": 3}, "labelFontSize": 18, "labelPadding": 3, "titleFontSize": 24, "titlePadding": 35}},
"color": {"field": "s", "type": "nominal", "legend": null}
}
},
{
"data": {"name": "markers"},
"mark": {"type": "point", "filled": true, "size": 70, "strokeWidth": 1.5, "opacity": 1},
"encoding": {
"x": {"field": "t", "type": "quantitative"},
"y": {"field": "v", "type": "quantitative"},
"stroke": {"field": "s", "type": "nominal", "legend": null, "scale": {"domain": ["A0","A1","A2","A3","A4","A5","A6"], "range": ["#000000","#c8141e","#ff00ff","#1ea8d6","#0000ff","#808080","#10107c"]}},
"fill": {"field": "s", "type": "nominal", "legend": null, "scale": {"domain": ["A0","A1","A2","A3","A4","A5","A6"], "range": ["#ffffff","#ffffff","#ffffff","#ffffff","#ffffff","#808080","#ffffff"]}},
"shape": {"field": "s", "type": "nominal", "scale": {"domain": ["A0","A1","A2","A3","A4","A5","A6"], "range": ["square","circle","triangle-up","diamond","triangle-right","diamond","M0,-1L0.235,-0.324L0.951,-0.309L0.38,0.124L0.588,0.809L0,0.4L-0.588,0.809L-0.38,0.124L-0.951,-0.309L-0.235,-0.324Z"]},
"legend": {"orient": "none", "legendX": 688, "legendY": 12, "direction": "horizontal", "columns": 4, "title": null, "symbolSize": 80, "symbolStrokeWidth": 1.5, "labelFont": "Liberation Serif", "labelFontWeight": "bold", "labelFontSize": 20, "labelColor": "#000", "labelOffset": 28, "columnPadding": 28, "rowPadding": 8}}
}
},
{
"data": {"values": [{}]},
"mark": {"type": "text", "text": "b", "font": "Liberation Serif", "fontWeight": "bold", "fontSize": 34, "align": "center", "baseline": "middle", "color": "#000"},
"encoding": {"x": {"datum": 3577}, "y": {"datum": 0.1359}}
}
]
}
],
"spacing": 130, "bounds": "flush"
},
{
"hconcat": [
{"width": 1, "height": 373, "data": {"values": [{}]}, "mark": {"type": "point", "opacity": 0}, "view": {"stroke": null}},
{
"width": 1122, "height": 373,
"data": {"name": "bars"},
"layer": [
{
"mark": {"type": "bar", "stroke": "#000", "strokeWidth": 1.2},
"encoding": {
"x": {"field": "g", "type": "nominal", "title": "Grease lable", "scale": {"paddingInner": 0.2, "paddingOuter": 0.1},
"axis": {"labelAngle": 0, "labelFontSize": 23, "labelPadding": 9, "tickSize": 6, "titleFontSize": 24, "titlePadding": 20}},
"xOffset": {"field": "p", "type": "nominal", "scale": {"domain": ["0s-3600s","750s-3600s"]}},
"y": {"field": "v", "type": "quantitative", "title": "Coefficient of friction", "scale": {"domain": [0.07, 0.14], "nice": false, "zero": false},
"axis": {"values": [0.08,0.1,0.12,0.14], "format": ".2f", "labelFontSize": 23, "labelPadding": 10, "tickSize": 6, "titleFontSize": 27, "titlePadding": 75}},
"y2": {"datum": 0.07},
"color": {"field": "p", "type": "nominal",
"scale": {"domain": ["0s-3600s","750s-3600s"], "range": ["#b00000", "#1414d8"]},
"legend": {"orient": "none", "legendX": 532, "legendY": -12, "direction": "horizontal", "title": null, "symbolType": "M-1,-0.5H1V0.5H-1Z", "symbolSize": 4900, "symbolStrokeColor": "#000", "symbolStrokeWidth": 1.5, "symbolOpacity": 1, "labelFont": "Liberation Serif", "labelFontWeight": "bold", "labelFontSize": 30, "labelColor": "#000", "labelOffset": 5, "columnPadding": 24}}
}
},
{
"transform": [{"filter": "datum.p == '0s-3600s'"}],
"mark": {"type": "bar", "stroke": "#000", "strokeWidth": 1.2, "color": {"gradient": "linear", "x1": 0, "y1": 0, "x2": 0, "y2": 1, "stops": [{"offset": 0, "color": "#e41414"}, {"offset": 1, "color": "#4b0000"}]}},
"encoding": {
"x": {"field": "g", "type": "nominal"},
"xOffset": {"field": "p", "type": "nominal"},
"y": {"field": "v", "type": "quantitative"},
"y2": {"datum": 0.07}
}
},
{
"transform": [{"filter": "datum.p == '750s-3600s'"}],
"mark": {"type": "bar", "stroke": "#000", "strokeWidth": 1.2, "color": {"gradient": "linear", "x1": 0, "y1": 0, "x2": 0, "y2": 1, "stops": [{"offset": 0, "color": "#2020ff"}, {"offset": 1, "color": "#0a0a40"}]}},
"encoding": {
"x": {"field": "g", "type": "nominal"},
"xOffset": {"field": "p", "type": "nominal"},
"y": {"field": "v", "type": "quantitative"},
"y2": {"datum": 0.07}
}
},
{
"mark": {"type": "rule", "color": "#000", "strokeWidth": 2},
"encoding": {
"x": {"field": "g", "type": "nominal"},
"xOffset": {"field": "p", "type": "nominal"},
"y": {"field": "lo", "type": "quantitative"},
"y2": {"field": "hi"}
}
},
{
"mark": {"type": "tick", "color": "#000", "size": 12, "thickness": 2.5, "opacity": 1},
"encoding": {
"x": {"field": "g", "type": "nominal"},
"xOffset": {"field": "p", "type": "nominal"},
"y": {"field": "lo", "type": "quantitative"}
}
},
{
"mark": {"type": "tick", "color": "#000", "size": 12, "thickness": 2.5, "opacity": 1},
"encoding": {
"x": {"field": "g", "type": "nominal"},
"xOffset": {"field": "p", "type": "nominal"},
"y": {"field": "hi", "type": "quantitative"}
}
},
{
"transform": [{"filter": "datum.p == '0s-3600s'"}],
"mark": {"type": "text", "font": "Liberation Serif", "fontWeight": "bold", "fontSize": 19, "angle": 342, "align": "center", "baseline": "middle", "dx": 21, "dy": -32, "color": "#000"},
"encoding": {
"x": {"field": "g", "type": "nominal"},
"xOffset": {"field": "p", "type": "nominal"},
"y": {"field": "hi", "type": "quantitative"},
"text": {"field": "v", "type": "nominal"}
}
},
{
"transform": [{"filter": "datum.p == '750s-3600s'"}],
"mark": {"type": "text", "font": "Liberation Serif", "fontWeight": "bold", "fontSize": 19, "angle": 342, "align": "center", "baseline": "middle", "dx": 6, "dy": -17, "color": "#000"},
"encoding": {
"x": {"field": "g", "type": "nominal"},
"xOffset": {"field": "p", "type": "nominal"},
"y": {"field": "hi", "type": "quantitative"},
"text": {"field": "v", "type": "nominal"}
}
},
{
"data": {"values": [{}]},
"mark": {"type": "text", "text": "c", "font": "Liberation Serif", "fontWeight": "bold", "fontSize": 32, "align": "center", "baseline": "middle", "color": "#000", "dx": 49},
"encoding": {"x": {"datum": "A6"}, "y": {"datum": 0.1352}}
}
]
}
],
"spacing": 66, "bounds": "flush"
}
],
"spacing": 26
}
